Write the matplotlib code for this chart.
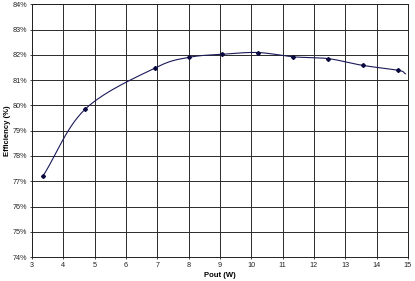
import numpy as np
import matplotlib.pyplot as plt
from matplotlib.ticker import FuncFormatter

plt.rcParams["font.family"] = ["Liberation Sans", "DejaVu Sans"]

# measured output power (W) and efficiency (%)
pout = [3.35, 4.69, 6.93, 8.02, 9.08, 10.21, 11.34, 12.45, 13.56, 14.69, 14.92]
eff = [77.2, 79.84, 81.48, 81.9, 82.02, 82.09, 81.92, 81.85, 81.58, 81.39, 81.25]


def smooth(x, y, n=30):
    # catmull-rom curve through the points, like Excel's smoothed line
    x = np.asarray(x, float)
    y = np.asarray(y, float)
    px = np.concatenate([[2 * x[0] - x[1]], x, [2 * x[-1] - x[-2]]])
    py = np.concatenate([[2 * y[0] - y[1]], y, [2 * y[-1] - y[-2]]])
    xs, ys = [], []
    t = np.linspace(0, 1, n)
    for i in range(1, len(px) - 2):
        for p, out in ((px, xs), (py, ys)):
            p0, p1, p2, p3 = p[i - 1], p[i], p[i + 1], p[i + 2]
            out.extend(0.5 * (2 * p1 + (-p0 + p2) * t
                              + (2 * p0 - 5 * p1 + 4 * p2 - p3) * t ** 2
                              + (-p0 + 3 * p1 - 3 * p2 + p3) * t ** 3))
    return xs, ys


fig = plt.figure(figsize=(4.15, 2.81), dpi=100)
ax = fig.add_axes([0.077, 0.085, 0.906, 0.9])

sx, sy = smooth(pout, eff)
ax.plot(sx, sy, color="#1a1a5a", lw=0.8)
ax.plot(pout[:-1], eff[:-1], "D", color="#0a0a40", ms=2, lw=0)

ax.set_xlim(3, 15)
ax.set_ylim(74, 84)
ax.set_xticks(range(3, 16))
ax.set_yticks(range(74, 85))
ax.yaxis.set_major_formatter(FuncFormatter(lambda v, p: f"{v:.0f}%"))
ax.grid(True, color="#2a2a2a", lw=0.7)
ax.tick_params(labelsize=5.2, length=1.5, width=0.6, pad=2, colors="#222222")
for s in ax.spines.values():
    s.set_color("#222222")
    s.set_linewidth(0.7)

ax.set_xlabel("Pout (W)", fontsize=5.5, fontweight="bold", labelpad=2)
ax.set_ylabel("Efficiency (%)", fontsize=5.5, fontweight="bold", labelpad=1)

fig.savefig("out.png", dpi=100)
